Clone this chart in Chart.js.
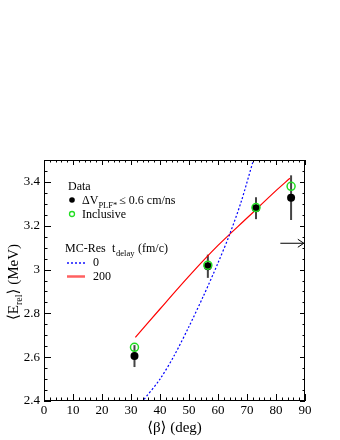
<!DOCTYPE html>
<html>
<head>
<meta charset="utf-8">
<script src="https://cdn.jsdelivr.net/npm/chart.js@4/dist/chart.umd.min.js"></script>
<style>
  html, body { margin: 0; padding: 0; background: #fff; }
  canvas { display: block; }
</style>
</head>
<body>
<canvas id="myChart" width="340" height="440"></canvas>
<script>
// measured points
const angles = [31.2, 56.5, 73.1, 85.2]
const eCut = [2.605, 3.015, 3.28, 3.328]
const errCut = [0.05, 0.053, 0.05, 0.102]
const eIncl = [2.645, 3.02, 3.283, 3.38]

// MC-Res curves
const red200X = [31.5, 40, 50, 60, 70, 80, 84.8]
const red200Y = [2.69, 2.82, 2.97, 3.11, 3.235, 3.36, 3.417]
const blue0X = [30, 34, 40, 45, 50, 55, 60, 64, 68, 72, 75]
const blue0Y = [2.34, 2.40, 2.50, 2.61, 2.74, 2.88, 3.03, 3.16, 3.31, 3.49, 3.62]

// arrow on right side
const arrowY = 3.12
const arrowX = [81.5, 89.6]

const xTicks = [0, 10, 20, 30, 40, 50, 60, 70, 80, 90]
const yTickLabels = ['2.4', '2.6', '2.8', '3', '3.2', '3.4']

const serif = '"Liberation Serif", "DejaVu Serif", serif'

const toXY = (xs, ys) => xs.map((x, i) => ({x: x, y: ys[i]}))

// frame, inward ticks, error bars, legend, titles
const decor = {
    id: 'decor',
    beforeDatasetsDraw(c) {
        const ctx = c.ctx
        const xs = c.scales.x, ys = c.scales.y
        ctx.save()
        ctx.strokeStyle = '#444'
        ctx.lineWidth = 2
        angles.forEach((x, i) => {
            const px = xs.getPixelForValue(x)
            ctx.beginPath()
            ctx.moveTo(px, ys.getPixelForValue(eCut[i] - errCut[i]))
            ctx.lineTo(px, ys.getPixelForValue(eCut[i] + errCut[i]))
            ctx.stroke()
        })
        ctx.restore()
    },
    afterDraw(c) {
        const ctx = c.ctx, a = c.chartArea
        const xs = c.scales.x, ys = c.scales.y
        ctx.save()
        ctx.strokeStyle = '#000'
        ctx.lineWidth = 1
        ctx.strokeRect(a.left + 0.5, a.top + 0.5, a.right - a.left - 1, a.bottom - a.top - 1)
        ctx.beginPath()
        for (let v = 0; v <= 90.001; v += 2) {
            const px = Math.round(xs.getPixelForValue(v)) + 0.5
            const major = Math.abs(v % 10) < 0.01
            ctx.moveTo(px, a.bottom); ctx.lineTo(px, a.bottom - (major ? 7 : 3.5))
            ctx.moveTo(px, a.top); ctx.lineTo(px, a.top + (major ? 5 : 2.5))
        }
        for (let v = 2.4; v <= 3.5001; v += 0.05) {
            const py = Math.round(ys.getPixelForValue(v)) + 0.5
            const k = Math.round(v * 100)
            const major = k % 20 === 0
            ctx.moveTo(a.left, py); ctx.lineTo(a.left + (major ? 7 : 3.5), py)
            ctx.moveTo(a.right, py); ctx.lineTo(a.right - (major ? 5 : 2.5), py)
        }
        ctx.stroke()

        // arrow
        const ay = ys.getPixelForValue(arrowY)
        const ax0 = xs.getPixelForValue(arrowX[0]), ax1 = xs.getPixelForValue(arrowX[1])
        ctx.beginPath()
        ctx.moveTo(ax0, ay); ctx.lineTo(ax1, ay)
        ctx.moveTo(ax1 - 6, ay - 4); ctx.lineTo(ax1, ay); ctx.lineTo(ax1 - 6, ay + 4)
        ctx.stroke()

        // legend
        const big = '12px ' + serif, small = '8.5px ' + serif
        ctx.fillStyle = '#000'
        ctx.font = big
        ctx.textBaseline = 'alphabetic'
        ctx.fillText('Data', 68, 190)
        ctx.beginPath(); ctx.arc(72, 200, 2.8, 0, Math.PI * 2); ctx.fill()
        let x = 82
        ctx.fillText('ΔV', x, 204); x += ctx.measureText('ΔV').width
        ctx.font = small
        ctx.fillText('PLF*', x, 208); x += ctx.measureText('PLF*').width + 2
        ctx.font = big
        ctx.fillText('≤ 0.6 cm/ns', x, 204)
        ctx.strokeStyle = '#22dd22'; ctx.lineWidth = 1.3
        ctx.beginPath(); ctx.arc(72, 214, 2.5, 0, Math.PI * 2); ctx.stroke()
        ctx.fillText('Inclusive', 82, 218)
        ctx.fillText('MC-Res', 65, 252)
        ctx.fillText('t', 112, 252)
        ctx.font = small
        ctx.fillText('delay', 116, 256)
        ctx.font = big
        ctx.fillText('(fm/c)', 138, 252)
        ctx.fillText('0', 93, 266)
        ctx.fillText('200', 93, 280)
        ctx.strokeStyle = '#ff6060'; ctx.lineWidth = 2.5
        ctx.beginPath(); ctx.moveTo(67, 276.5); ctx.lineTo(85, 276.5); ctx.stroke()
        ctx.strokeStyle = '#0000ff'; ctx.lineWidth = 1.4; ctx.setLineDash([2, 2])
        ctx.beginPath(); ctx.moveTo(67, 263); ctx.lineTo(86, 263); ctx.stroke()
        ctx.setLineDash([])

        // axis titles
        ctx.font = '15px ' + serif
        ctx.textAlign = 'center'
        ctx.fillText('⟨β⟩ (deg)', (a.left + a.right) / 2, 432)
        ctx.translate(18, 282)
        ctx.rotate(-Math.PI / 2)
        const p1 = '⟨E', sub = 'rel', p2 = '⟩ (MeV)'
        ctx.font = '15px ' + serif
        const w1 = ctx.measureText(p1).width, w3 = ctx.measureText(p2).width
        ctx.font = '10px ' + serif
        const w2 = ctx.measureText(sub).width
        let tx = -(w1 + w2 + w3) / 2
        ctx.textAlign = 'left'
        ctx.font = '15px ' + serif
        ctx.fillText(p1, tx, 0); tx += w1
        ctx.font = '10px ' + serif
        ctx.fillText(sub, tx, 4); tx += w2
        ctx.font = '15px ' + serif
        ctx.fillText(p2, tx, 0)
        ctx.restore()
    }
}

const data = {
    datasets: [{
        label: 'cut',
        data: toXY(angles, eCut),
        pointRadius: 4,
        backgroundColor: '#000',
        borderColor: '#000',
        borderWidth: 0,
        order: 2
    }, {
        label: 'inclusive',
        data: toXY(angles, eIncl),
        pointRadius: 4,
        backgroundColor: 'rgba(0,0,0,0)',
        borderColor: '#22dd22',
        borderWidth: 1.5,
        order: 1
    }, {
        label: '0',
        data: toXY(blue0X, blue0Y),
        showLine: true,
        pointRadius: 0,
        borderColor: '#0000ff',
        borderWidth: 1.2,
        borderDash: [2, 2],
        tension: 0.3,
        order: 3
    }, {
        label: '200',
        data: toXY(red200X, red200Y),
        showLine: true,
        pointRadius: 0,
        borderColor: '#ff0000',
        borderWidth: 1.2,
        tension: 0.3,
        order: 3
    }]
}

const config = {
    type: 'scatter',
    data: data,
    options: {
        responsive: false,
        animation: false,
        layout: { padding: { top: 160, right: 35, left: 0, bottom: 0 } },
        plugins: { legend: { display: false }, tooltip: { enabled: false } },
        scales: {
            x: {
                type: 'linear', min: 0, max: 90,
                grid: { display: false, drawTicks: false },
                border: { display: false },
                afterFit: s => { s.height = 39 },
                afterBuildTicks: s => { s.ticks = xTicks.map(v => ({value: v})) },
                ticks: { color: '#000', font: { family: serif, size: 13 }, padding: 2, maxRotation: 0, autoSkip: false }
            },
            y: {
                type: 'linear', min: 2.4, max: 3.5,
                grid: { display: false, drawTicks: false },
                border: { display: false },
                afterFit: s => { s.width = 44 },
                afterBuildTicks: s => { s.ticks = yTickLabels.map(t => ({value: parseFloat(t)})) },
                ticks: { color: '#000', font: { family: serif, size: 13 }, padding: 4,
                    callback: (v, i) => yTickLabels[i] }
            }
        }
    },
    plugins: [decor]
}

const myChart = new Chart(document.getElementById('myChart').getContext('2d'), config)
</script>
</body>
</html>
